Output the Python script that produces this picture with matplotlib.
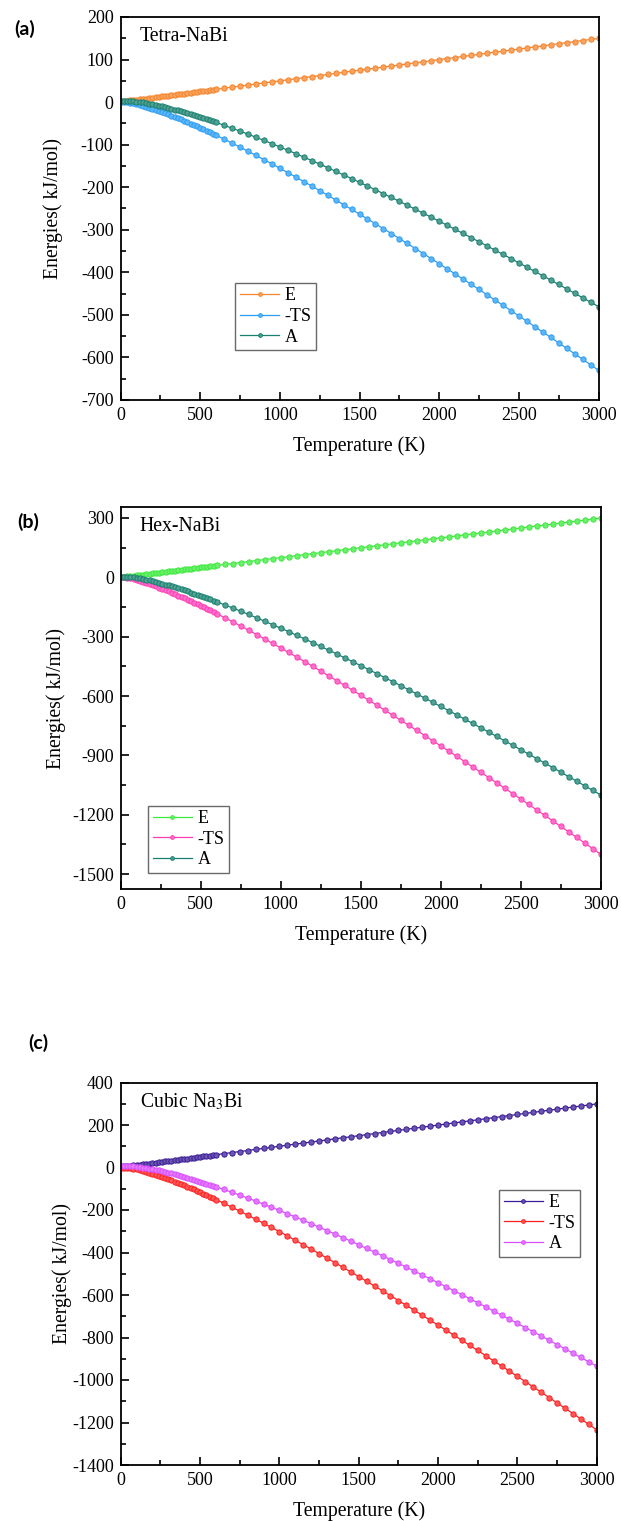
import numpy as np
import matplotlib
matplotlib.use("Agg")
import matplotlib.pyplot as plt
from matplotlib.ticker import MultipleLocator

plt.rcParams['font.family'] = ['Liberation Serif', 'DejaVu Serif']
plt.rcParams['mathtext.fontset'] = 'stix'
plt.rcParams['axes.unicode_minus'] = False

# temperature grid (K): 20 K steps up to 600 K, then 50 K steps
temps = list(range(0, 601, 20)) + list(range(650, 3001, 50))

# (a) Tetra-NaBi, kJ/mol
E_tetra = [3.0, 3.0, 3.3, 3.9, 4.7, 5.6, 6.5, 7.4, 8.4, 9.3, 10.3, 11.3, 12.2, 13.2, 14.2, 15.2,
           16.2, 17.1, 18.1, 19.1, 20.1, 21.1, 22.1, 23.1, 24.1, 25.1, 26.1, 27.1, 28.0, 29.0, 30.0,
           32.5, 35.0, 37.5, 40.0, 42.5, 45.0, 47.5, 49.9, 52.4, 54.9, 57.4, 59.9, 62.4, 64.9, 67.4,
           69.9, 72.4, 74.9, 77.4, 79.9, 82.3, 84.8, 87.3, 89.8, 92.3, 94.8, 97.3, 99.8, 102.3, 104.8,
           107.3, 109.8, 112.3, 114.8, 117.3, 119.7, 122.2, 124.7, 127.2, 129.7, 132.2, 134.7, 137.2,
           139.7, 142.2, 144.7, 147.2, 149.7]
TS_tetra = [0.0, 0.0, -0.4, -1.4, -2.7, -4.3, -6.2, -8.2, -10.4, -12.7, -15.1, -17.7, -20.3, -23.0,
            -25.8, -28.7, -31.6, -34.6, -37.6, -40.7, -43.9, -47.1, -50.4, -53.7, -57.0, -60.4, -63.8,
            -67.3, -70.8, -74.3, -77.9,
            -87.0, -96.3, -105.7, -115.3, -125.1, -135.0, -145.1, -155.3, -165.6, -176.0, -186.6,
            -197.2, -208.0, -218.8, -229.8, -240.8, -252.0, -263.2, -274.5, -285.9, -297.4, -308.9,
            -320.5, -332.2, -344.0, -355.8, -367.7, -379.6, -391.6, -403.7, -415.9, -428.1, -440.3,
            -452.6, -465.0, -477.4, -489.8, -502.4, -514.9, -527.6, -540.2, -552.9, -565.7, -578.5,
            -591.3, -604.2, -617.2, -630.1]
A_tetra = [3.0, 3.0, 2.9, 2.6, 2.0, 1.3, 0.3, -0.8, -2.0, -3.4, -4.9, -6.4, -8.1, -9.8, -11.6, -13.5,
           -15.4, -17.4, -19.5, -21.6, -23.8, -26.0, -28.3, -30.6, -32.9, -35.3, -37.8, -40.2, -42.8,
           -45.3, -47.9,
           -54.5, -61.3, -68.2, -75.3, -82.6, -90.1, -97.6, -105.3, -113.1, -121.1, -129.2, -137.3,
           -145.6, -154.0, -162.4, -171.0, -179.6, -188.4, -197.2, -206.1, -215.1, -224.1, -233.2,
           -242.4, -251.7, -261.0, -270.4, -279.9, -289.4, -299.0, -308.6, -318.3, -328.1, -337.9,
           -347.7, -357.7, -367.6, -377.7, -387.7, -397.9, -408.0, -418.2, -428.5, -438.8, -449.2,
           -459.6, -470.0, -480.5]

# (b) Hex-NaBi
E_hex = [3.8, 4.0, 5.1, 6.8, 8.6, 10.5, 12.4, 14.3, 16.3, 18.2, 20.2, 22.2, 24.1, 26.1, 28.1, 30.1,
         32.1, 34.1, 36.1, 38.0, 40.0, 42.0, 44.0, 46.0, 48.0, 50.0, 52.0, 54.0, 56.0, 57.9, 59.9,
         64.9, 69.9, 74.9, 79.9, 84.9, 89.8, 94.8, 99.8, 104.8, 109.8, 114.8, 119.8, 124.7, 129.7,
         134.7, 139.7, 144.7, 149.7, 154.7, 159.7, 164.6, 169.6, 174.6, 179.6, 184.6, 189.6, 194.6,
         199.6, 204.5, 209.5, 214.5, 219.5, 224.5, 229.5, 234.5, 239.5, 244.4, 249.4, 254.4, 259.4,
         264.4, 269.4, 274.4, 279.4, 284.4, 289.3, 294.3, 299.3]
TS_hex = [0.0, -0.2, -2.0, -5.0, -8.7, -13.0, -17.6, -22.7, -28.0, -33.6, -39.4, -45.4, -51.6, -57.9,
          -64.5, -71.1, -77.9, -84.8, -91.9, -99.0, -106.2, -113.6, -121.0, -128.6, -136.2, -143.9,
          -151.7, -159.6, -167.5, -175.5, -183.6,
          -204.1, -224.9, -246.2, -267.7, -289.6, -311.8, -334.2, -356.9, -379.8, -403.0, -426.5,
          -450.1, -473.9, -498.0, -522.2, -546.6, -571.2, -596.0, -620.9, -646.0, -671.3, -696.7,
          -722.3, -747.9, -773.8, -799.7, -825.9, -852.1, -878.4, -904.9, -931.5, -958.2, -985.0,
          -1012.0, -1039.0, -1066.1, -1093.4, -1120.7, -1148.2, -1175.7, -1203.4, -1231.1, -1259.0,
          -1286.9, -1314.9, -1343.0, -1371.2, -1399.5]
A_hex = [3.8, 3.7, 3.1, 1.8, -0.1, -2.5, -5.3, -8.4, -11.7, -15.4, -19.2, -23.2, -27.4, -31.8, -36.3,
         -41.0, -45.8, -50.8, -55.8, -61.0, -66.2, -71.6, -77.0, -82.6, -88.2, -93.9, -99.7, -105.6,
         -111.5, -117.6, -123.7,
         -139.2, -155.0, -171.3, -187.8, -204.7, -221.9, -239.4, -257.1, -275.0, -293.3, -311.7,
         -330.3, -349.2, -368.3, -387.5, -406.9, -426.5, -446.3, -466.3, -486.4, -506.6, -527.1,
         -547.6, -568.3, -589.2, -610.2, -631.3, -652.5, -673.9, -695.4, -717.0, -738.7, -760.5,
         -782.5, -804.5, -826.7, -849.0, -871.3, -893.8, -916.3, -939.0, -961.7, -984.6, -1007.5,
         -1030.6, -1053.7, -1076.9, -1100.1]

# (c) Cubic Na3Bi
E_cubic = [6.6, 6.6, 7.1, 8.2, 9.7, 11.4, 13.2, 15.0, 16.9, 18.8, 20.7, 22.6, 24.5, 26.5, 28.5, 30.4,
           32.4, 34.3, 36.3, 38.3, 40.3, 42.3, 44.2, 46.2, 48.2, 50.2, 52.2, 54.1, 56.1, 58.1, 60.1,
           65.1, 70.1, 75.0, 80.0, 85.0, 90.0, 94.9, 99.9, 104.9, 109.9, 114.9, 119.8, 124.8, 129.8,
           134.8, 139.8, 144.8, 149.8, 154.7, 159.7, 164.7, 169.7, 174.7, 179.7, 184.7, 189.6, 194.6,
           199.6, 204.6, 209.6, 214.6, 219.6, 224.5, 229.5, 234.5, 239.5, 244.5, 249.5, 254.5, 259.5,
           264.4, 269.4, 274.4, 279.4, 284.4, 289.4, 294.4, 299.4]
TS_cubic = [0.0, 0.0, -0.7, -2.3, -4.8, -7.9, -11.4, -15.3, -19.5, -23.9, -28.6, -33.5, -38.6, -43.8,
            -49.2, -54.7, -60.4, -66.2, -72.2, -78.2, -84.3, -90.6, -96.9, -103.3, -109.9, -116.5,
            -123.1, -129.9, -136.7, -143.6, -150.6,
            -168.3, -186.5, -204.9, -223.7, -242.8, -262.2, -281.9, -301.9, -322.1, -342.5, -363.2,
            -384.0, -405.1, -426.4, -447.9, -469.6, -491.4, -513.4, -535.6, -557.9, -580.4, -603.1,
            -625.9, -648.8, -671.9, -695.1, -718.5, -741.9, -765.5, -789.3, -813.1, -837.0, -861.1,
            -885.3, -909.6, -934.0, -958.4, -983.0, -1007.7, -1032.6, -1057.4, -1082.4, -1107.5,
            -1132.7, -1157.9, -1183.3, -1208.7, -1234.2]
A_cubic = [6.6, 6.6, 6.4, 5.9, 4.9, 3.5, 1.7, -0.3, -2.6, -5.2, -7.9, -10.9, -14.0, -17.3, -20.7,
           -24.3, -28.0, -31.9, -35.8, -39.9, -44.1, -48.3, -52.7, -57.1, -61.7, -66.3, -71.0, -75.8,
           -80.6, -85.5, -90.5,
           -103.3, -116.4, -129.9, -143.7, -157.9, -172.3, -187.0, -202.0, -217.2, -232.6, -248.3,
           -264.2, -280.3, -296.6, -313.1, -329.8, -346.6, -363.7, -380.9, -398.2, -415.7, -433.4,
           -451.2, -469.2, -487.3, -505.5, -523.8, -542.3, -560.9, -579.7, -598.5, -617.5, -636.6,
           -655.8, -675.1, -694.5, -714.0, -733.6, -753.3, -773.1, -793.0, -813.0, -833.1, -853.3,
           -873.5, -893.9, -914.4, -934.9]

W, H = 621, 1521
fig = plt.figure(figsize=(W / 100, H / 100), dpi=100)


def px_axes(left, top, right, bottom):
    return fig.add_axes([left / W, 1 - bottom / H, (right - left) / W, (bottom - top) / H])


def light(c, f=0.25):
    rgb = np.array(matplotlib.colors.to_rgb(c))
    return tuple(rgb + (1 - rgb) * f)


def panel(ax, series, ylim, major, title, leg_anchor, ylabelpad):
    for vals, col, lab in series:
        ax.plot(temps, vals, '-', color=col, lw=0.9, marker='o', ms=3.8,
                mfc=light(col), mec=col, mew=0.7, label=lab)
    ax.set_xlim(0, 3000)
    ax.set_ylim(*ylim)
    ax.xaxis.set_major_locator(MultipleLocator(500))
    ax.xaxis.set_minor_locator(MultipleLocator(250))
    ax.yaxis.set_major_locator(MultipleLocator(major))
    ax.yaxis.set_minor_locator(MultipleLocator(major / 2))
    ax.tick_params(which='both', direction='in', top=False, right=False, labelsize=13,
                   width=1.2, colors='black')
    ax.tick_params(which='major', length=6, pad=5)
    ax.tick_params(which='minor', length=3.5)
    for sp in ax.spines.values():
        sp.set_linewidth(1.3)
    ax.set_xlabel('Temperature (K)', fontsize=14.2, labelpad=9)
    ax.set_ylabel('Energies( kJ/mol)', fontsize=14.2, labelpad=ylabelpad)
    ax.text(0.04, 0.95, title, transform=ax.transAxes, fontsize=14.2, va='center', ha='left')
    leg = ax.legend(loc='lower left', bbox_to_anchor=leg_anchor, fontsize=13, frameon=True,
                    fancybox=False, edgecolor='#444444', handlelength=2.2, handletextpad=0.3,
                    labelspacing=0.2, borderpad=0.25, borderaxespad=0, numpoints=1,
                    markerscale=0.7)
    leg.get_frame().set_linewidth(1.0)


ax_a = px_axes(120.5, 17, 598.5, 400)
panel(ax_a, [(E_tetra, '#F5842A', 'E'), (TS_tetra, '#2A9DF4', '-TS'), (A_tetra, '#18806F', 'A')],
      (-700, 200), 100, 'Tetra-NaBi', (0.24, 0.13), 13)

ax_b = px_axes(120.7, 507.3, 600.7, 889.3)
panel(ax_b, [(E_hex, '#3BEA3B', 'E'), (TS_hex, '#FF3EB6', '-TS'), (A_hex, '#18806F', 'A')],
      (-1577, 354), 300, 'Hex-NaBi', (0.057, 0.043), 4)

ax_c = px_axes(120.7, 1082.5, 596.7, 1465)
panel(ax_c, [(E_cubic, '#3A1C96', 'E'), (TS_cubic, '#FF1E1E', '-TS'), (A_cubic, '#DA4CFF', 'A')],
      (-1400, 400), 200, 'Cubic Na$_3$Bi', (0.795, 0.544), 0)

for lab, (x, y) in zip(['(a)', '(b)', '(c)'], [(14, 29), (17, 522), (28, 1043)]):
    fig.text(x / W, 1 - y / H, lab, fontsize=14, fontweight='bold', family=['Lato', 'DejaVu Sans'],
             va='center', ha='left')

fig.savefig('out.png', dpi=100)
